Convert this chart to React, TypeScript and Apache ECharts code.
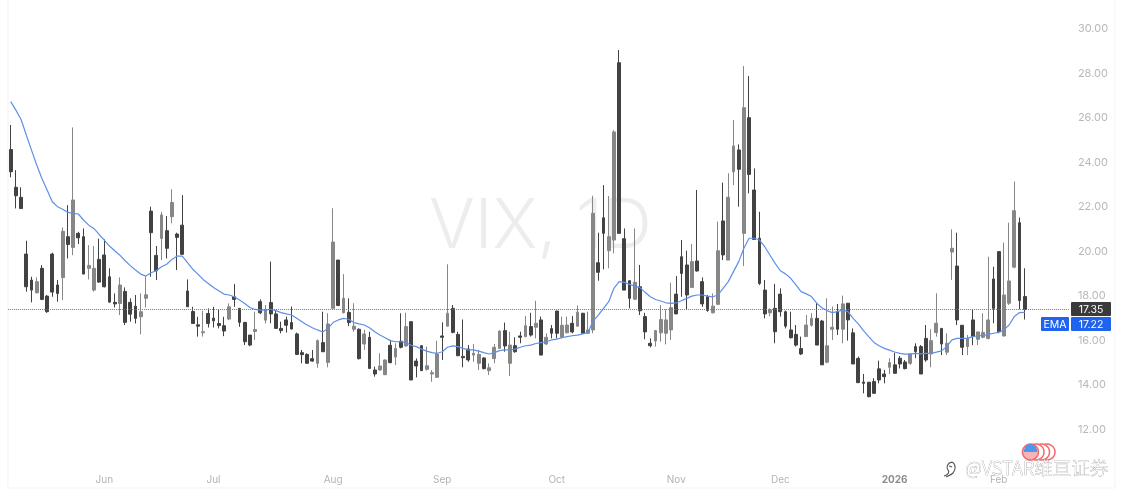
import React, { useEffect, useRef } from "react";
import * as echarts from "echarts";

// rows are [open, close, low, high]; grey candles rise, dark candles fall
const mayCandles = [
  [24.54,23.54,23.29,25.64],[22.84,22.46,21.89,23.61],[22.39,21.89,21.86,22.84],[19.84,18.37,18.15,20.44],
  [18.67,18.22,17.67,18.82],[18.1,18.6,18.07,18.79],[19.2,17.8,17.77,19.34],[17.95,17.25,17.2,18.0],
  [19.84,18.13,17.92,19.9],[18.45,18.07,17.7,18.67],[18.78,20.86,17.77,21.04],[20.62,20.27,19.64,22.04],
  [20.14,22.27,19.79,25.53],[20.77,20.57,20.29,20.84],[20.62,18.94,18.94,20.99],[19.2,19.33,18.7,20.24],
  [18.22,19.2,18.15,20.2],[19.6,18.58,18.55,20.53],
];
const junCandles = [
  [19.8,18.37,18.34,20.5],[18.82,17.68,17.65,19.2],[17.67,17.6,17.44,18.07],[17.62,18.45,17.1,18.79],
  [18.16,16.77,16.65,18.34],[17.67,17.14,16.8,17.85],[17.5,16.95,16.72,18.0],[17.02,17.25,16.23,18.07],
  [17.85,18.01,17.44,18.82],[21.77,20.8,18.82,21.97],[19.78,19.09,18.67,20.2],[20.54,21.6,19.57,21.74],
  [20.89,20.1,19.64,21.55],[21.52,22.16,21.22,22.75],[20.74,20.59,19.12,20.8],[21.14,19.83,19.8,22.49],
  [18.18,17.47,17.47,18.7],[17.26,16.72,16.72,17.47],[16.66,16.6,16.13,17.02],[16.3,16.35,16.13,17.29],
  [17.17,16.72,16.54,17.4],
];
const julCandles = [
  [16.96,16.84,16.54,17.47],[16.72,16.63,16.5,17.35],[16.62,16.38,16.15,17.02],[16.92,17.47,16.87,17.62],
  [17.92,17.8,17.47,18.49],[17.4,16.77,16.57,17.4],[16.77,15.9,15.75,16.77],[16.2,15.75,15.7,16.2],
  [16.36,16.45,15.97,17.25],[17.7,17.2,17.14,17.8],[16.87,17.35,16.72,17.55],[17.66,17.15,16.73,19.5],
  [17.15,16.5,16.5,17.33],[16.5,16.4,16.28,16.8],[16.88,16.64,16.31,17.03],[16.76,16.47,16.46,17.48],
  [16.25,15.33,15.3,16.31],[15.41,15.32,14.93,15.53],[15.33,14.93,14.9,15.38],[15.14,15.03,15.0,15.53],
  [14.93,15.95,14.73,16.0],[15.86,15.45,15.45,17.25],[14.97,16.7,14.75,17.18],
];
const augCandles = [
  [17.4,20.38,17.4,21.9],[19.57,17.53,17.5,19.57],[17.2,17.85,17.18,18.94],[17.22,16.76,16.6,17.85],
  [16.46,16.6,16.35,17.63],[16.46,15.14,15.1,16.5],[15.8,16.25,15.53,16.43],[16.1,14.7,14.7,16.35],
  [14.63,14.45,14.33,14.78],[14.63,14.81,14.6,15.38],[14.42,15.08,14.4,15.1],[15.74,14.96,14.93,15.98],
  [15.21,15.59,14.85,15.83],[15.92,15.65,15.6,17.18],[15.71,16.58,15.68,17.2],[16.8,14.18,14.18,16.8],
  [15.03,14.81,14.3,15.15],[15.72,14.6,14.6,15.75],[14.66,14.82,14.6,15.68],[14.45,14.51,14.1,14.63],
  [14.3,15.35,14.28,15.95],
];
const sepCandles = [
  [16.16,16.1,15.08,16.77],[16.6,17.18,16.58,19.38],[17.4,16.32,16.28,17.55],[16.23,15.27,15.26,16.35],
  [15.24,15.18,14.75,16.9],[15.57,15.08,15.0,15.75],[15.3,15.38,15.0,15.8],[14.93,15.33,14.63,15.53],
  [15.17,14.69,14.66,15.2],[14.6,14.73,14.4,14.93],[15.14,15.65,14.93,15.8],[15.6,16.38,15.6,16.4],
  [16.4,15.71,15.45,16.76],[14.93,15.75,14.36,16.35],[15.72,15.45,15.41,16.1],[16.16,16.1,15.83,16.35],
  [16.13,16.62,16.1,17.06],[16.58,16.2,16.13,17.2],[16.55,16.73,16.05,17.74],[16.88,15.3,15.3,17.03],
  [15.8,16.1,15.75,16.28],[16.49,16.28,16.05,16.65],
];
const octCandles = [
  [17.28,16.28,16.05,17.28],[16.1,16.64,16.05,17.03],[16.3,16.65,16.28,17.03],[16.73,16.34,16.28,17.06],
  [16.6,17.23,16.58,17.53],[17.18,16.28,16.25,17.18],[16.28,16.43,16.28,17.25],[16.43,21.67,16.28,22.46],
  [19.45,19.02,18.64,20.8],[21.47,20.77,19.15,22.94],[19.99,20.62,19.2,22.45],[20.47,25.33,19.87,25.41],
  [28.44,20.77,20.77,29.01],[20.53,18.22,18.22,20.99],[18.64,17.85,17.4,18.67],[17.81,18.57,17.77,20.99],
  [18.37,17.29,17.1,19.35],[17.03,16.34,16.01,17.2],[15.83,15.72,15.65,16.05],[15.93,16.4,15.68,16.4],
  [16.3,16.9,15.9,17.55],[16.28,16.88,15.78,17.35],[16.43,17.43,15.98,18.55],
];
const novCandles = [
  [18.04,17.15,17.15,18.85],[19.72,18.97,17.92,20.47],[19.35,18.0,17.33,19.99],[18.34,19.5,18.34,20.29],
  [19.53,19.08,19.05,22.72],[18.6,17.6,17.47,18.79],[17.92,17.3,17.25,18.0],[17.2,17.5,17.17,18.07],
  [17.58,19.99,17.55,21.3],[21.33,19.8,19.57,23.05],[19.57,22.39,19.57,23.47],[23.54,24.7,22.94,25.86],
  [24.52,23.65,21.97,24.77],[20.77,26.42,19.3,28.29],[25.97,23.42,22.57,27.84],[22.72,20.5,20.5,23.69],
  [20.55,18.52,18.45,21.74],[18.22,17.15,16.95,18.67],[17.2,17.33,17.05,17.4],[17.4,16.35,15.83,18.5],
];
const decCandles = [
  [18.04,17.25,17.03,18.3],[17.25,16.6,16.5,17.3],[16.43,16.08,16.05,17.25],[16.23,15.75,15.68,16.65],
  [15.59,15.35,15.3,16.13],[16.13,16.65,16.13,17.1],[16.64,16.95,16.58,17.18],[16.95,15.75,15.75,17.63],
  [16.83,14.86,14.86,16.88],[14.98,15.72,14.93,17.85],[16.46,16.55,15.98,17.48],[17.25,16.46,16.2,17.6],
  [16.46,17.6,15.83,17.97],[17.63,16.88,15.95,17.63],[16.3,14.9,14.9,16.5],[15.15,14.06,14.06,15.23],
  [14.09,14.03,13.58,14.45],[14.08,13.43,13.4,14.09],[14.11,13.58,13.58,14.26],[14.68,14.18,14.03,15.05],
  [14.45,14.33,14.03,14.63],[14.75,14.96,14.45,15.16],
];
const janCandles = [
  [14.86,14.48,14.48,15.41],[15.16,14.9,14.7,15.26],[14.99,14.69,14.66,15.08],[14.93,15.35,14.86,15.38],
  [15.68,15.45,15.16,15.83],[15.68,14.45,14.45,15.75],[16.05,15.08,15.0,16.65],[15.35,15.95,14.75,16.46],
  [16.31,16.73,16.13,18.08],[16.5,15.8,15.3,16.5],[15.43,15.83,15.3,16.28],[19.93,20.1,18.68,20.95],
  [19.3,16.88,16.65,20.8],[16.64,15.65,15.3,16.65],[15.68,16.05,15.3,16.2],[16.88,16.13,15.75,17.36],
  [16.01,16.34,15.75,16.35],[16.1,16.32,16.05,17.18],[16.05,16.88,16.0,19.72],[18.72,17.4,16.73,19.27],
];
const febCandles = [
  [19.95,16.35,16.28,19.95],[16.16,18.0,16.13,20.35],[17.63,18.63,17.55,21.25],[19.25,21.79,19.2,23.1],
  [21.25,17.75,17.36,21.48],[17.93,17.35,16.9,19.2],
];
const candles = [...mayCandles, ...junCandles, ...julCandles, ...augCandles, ...sepCandles,
  ...octCandles, ...novCandles, ...decCandles, ...janCandles, ...febCandles];

const emaFirst = [
  26.69,26.31,25.89,25.19,24.51,23.84,23.24,22.72,22.19,21.97,21.85,21.71,21.67,21.64,21.37,21.14,20.99,20.72,20.47,20.2,
  19.99,19.79,19.54,19.32,19.12,18.94,18.85,19.0,19.09,19.27,19.38,19.6,19.75,19.75,19.45,19.16,18.94,18.7,18.52,18.34,
  18.19,18.04,18.0,17.92,17.77,17.62,17.44,17.35,17.32,17.32,
];
const emaSecond = [
  17.36,17.3,17.21,17.15,17.1,16.95,16.8,16.65,16.53,16.43,16.34,16.5,16.76,16.88,16.95,16.91,16.76,16.7,16.65,16.53,
  16.35,16.2,16.08,15.95,15.9,15.9,15.86,15.74,15.68,15.57,15.48,15.41,15.38,15.45,15.65,15.71,15.68,15.6,15.53,15.53,
  15.48,15.41,15.35,15.41,15.5,15.53,15.53,15.57,15.65,15.72,
];
const emaThird = [
  15.75,15.82,15.86,15.9,15.98,16.02,16.08,16.13,16.17,16.2,16.25,16.31,16.83,17.1,17.4,17.7,18.3,18.6,18.57,18.48,
  18.4,18.33,18.12,17.92,17.8,17.73,17.65,17.62,17.65,17.74,17.85,17.95,18.0,18.0,17.95,17.92,18.0,18.3,18.6,19.05,
  19.5,20.1,20.55,20.55,20.47,20.17,19.8,19.42,19.09,18.95,
];
const emaFourth = [
  18.75,18.45,18.15,18.05,17.93,17.63,17.43,17.3,17.21,17.25,17.33,17.25,16.95,16.7,16.4,16.13,15.87,15.72,15.6,15.52,
  15.44,15.38,15.34,15.34,15.38,15.35,15.38,15.38,15.43,15.49,15.68,15.98,16.05,16.05,16.05,16.13,16.17,16.17,16.23,16.28,
  16.32,16.43,16.65,17.03,17.21,17.22,
];
const ema = [...emaFirst, ...emaSecond, ...emaThird, ...emaFourth];

const tickIndexes = [18, 39, 62, 83, 105, 128, 148, 170, 190];
const tickLabels = ["Jun", "Jul", "Aug", "Sep", "Oct", "Nov", "Dec", "2026", "Feb"];
const lastClose = 17.35;
const lastEma = 17.22;
const totalBands = 204;

const categories = Array.from({ length: totalBands }, (_, i) => {
  const k = tickIndexes.indexOf(i);
  return k >= 0 ? tickLabels[k] : `d${i}`;
});

const FONT = "Inter, 'Noto Sans', sans-serif";
const LOGO = "M9 1C4 2 3 7 5 9C7 11 5 14 1 15M9 1C13 3 13 9 10 12C8 14 5 15 3 16M6 5L9 6";

export default function App() {
  const ref = useRef<HTMLDivElement>(null);
  useEffect(() => {
    if (!ref.current) return;
    echarts.graphic.registerShape("wbLogo", echarts.graphic.extendPath(LOGO, {}) as any);
    const chart = echarts.init(ref.current, undefined, { renderer: "svg" });
    const boxStyle = { fill: "#fff", fontFamily: FONT, fontSize: 10.5 };
    chart.setOption({
      animation: false,
      backgroundColor: "#ffffff",
      grid: { left: 8.1, width: 1060.8, top: 5.75, height: 467.25 },
      xAxis: {
        type: "category",
        data: categories,
        boundaryGap: true,
        axisLine: { show: false },
        axisTick: { show: false },
        splitLine: { show: false },
        axisLabel: {
          interval: (i: number) => tickIndexes.includes(i),
          margin: 0.5,
          fontSize: 10,
          fontFamily: FONT,
          color: "#b4b4b4",
          formatter: (v: string) => (v === "2026" ? `{b|${v}}` : v),
          rich: { b: { fontWeight: 700, color: "#8c8c8c", fontSize: 10, fontFamily: FONT } },
        },
      },
      yAxis: {
        type: "value",
        position: "right",
        min: 10,
        max: 31,
        interval: 2,
        axisLine: { show: false },
        axisTick: { show: false },
        splitLine: { show: false },
        axisLabel: {
          margin: 9,
          fontSize: 11,
          fontFamily: FONT,
          color: "#b8b8b8",
          formatter: (v: number) => (v >= 12 && v <= 30 ? v.toFixed(2) : ""),
        },
      },
      series: [
        {
          type: "candlestick",
          data: candles,
          barWidth: 3.4,
          z: 3,
          itemStyle: {
            color: "#878787",
            color0: "#424242",
            borderColor: "#878787",
            borderColor0: "#424242",
            borderWidth: 1,
          },
          markLine: {
            silent: true,
            symbol: "none",
            label: { show: false },
            lineStyle: { type: "dotted", color: "#777777", width: 1 },
            data: [{ yAxis: lastClose }],
          },
        },
        {
          type: "line",
          data: ema,
          symbol: "none",
          smooth: false,
          z: 4,
          lineStyle: { color: "#5f8fe6", width: 1.2 },
        },
      ],
      graphic: [
        { type: "rect", z: -1, silent: true, shape: { x: 8, y: -4, width: 1107, height: 492 },
          style: { fill: "#fff", stroke: "#f3f3f3", lineWidth: 1 } },
        { type: "text", z: 0, silent: true, x: 429, y: 189,
          style: { text: "VIX, 1D", fontSize: 68, fontFamily: "Inter, sans-serif", fontWeight: 300, fill: "#ededed" } },
        { type: "rect", z: 10, shape: { x: 1071, y: 302, width: 40, height: 14, r: 1 }, style: { fill: "#3a3a3a" } },
        { type: "text", z: 11, x: 1091, y: 309,
          style: { ...boxStyle, text: lastClose.toFixed(2), align: "center", verticalAlign: "middle" } },
        { type: "rect", z: 10, shape: { x: 1041, y: 317, width: 28, height: 14, r: 1 }, style: { fill: "#1f63ee" } },
        { type: "rect", z: 10, shape: { x: 1071, y: 317, width: 40, height: 14, r: 1 }, style: { fill: "#1f63ee" } },
        { type: "text", z: 11, x: 1055, y: 324,
          style: { ...boxStyle, text: "EMA", align: "center", verticalAlign: "middle" } },
        { type: "text", z: 11, x: 1091, y: 324,
          style: { ...boxStyle, text: lastEma.toFixed(2), align: "center", verticalAlign: "middle" } },
        { type: "circle", z: 12, shape: { cx: 1047, cy: 452, r: 8 }, style: { fill: "#fff", stroke: "#f2686c", lineWidth: 1.5 } },
        { type: "circle", z: 13, shape: { cx: 1041.5, cy: 452, r: 8 }, style: { fill: "#fff", stroke: "#f2686c", lineWidth: 1.5 } },
        { type: "circle", z: 14, shape: { cx: 1036, cy: 452, r: 8 }, style: { fill: "#fff", stroke: "#f2686c", lineWidth: 1.5 } },
        { type: "circle", z: 15, shape: { cx: 1030.5, cy: 452, r: 8 }, style: { fill: "#f7b3b5", stroke: "#f2686c", lineWidth: 1.5 } },
        { type: "rect", z: 16, shape: { x: 1024, y: 449, width: 13, height: 3 }, style: { fill: "#4d97ee" } },
        { type: "sector", z: 16, shape: { cx: 1030.5, cy: 450, r0: 0, r: 6, startAngle: Math.PI, endAngle: 2 * Math.PI }, style: { fill: "#4d97ee" } },
        { type: "wbLogo", z: 17, x: 943, y: 461, style: { fill: "none", stroke: "#555555", lineWidth: 1.1 } },
        { type: "text", z: 17, x: 965, y: 467,
          style: { text: "@VSTAR维亘证券", fontSize: 18.5, fontFamily: "'Noto Sans CJK SC', 'Noto Sans', sans-serif", fontWeight: 300,
            verticalAlign: "middle", fill: "#ffffff", stroke: "#858585", lineWidth: 0.5 } },
      ],
    });
    return () => chart.dispose();
  }, []);
  return <div ref={ref} style={{ position: "absolute", left: 0, top: 0, width: 1123, height: 502, filter: "blur(0.4px)" }} />;
}
